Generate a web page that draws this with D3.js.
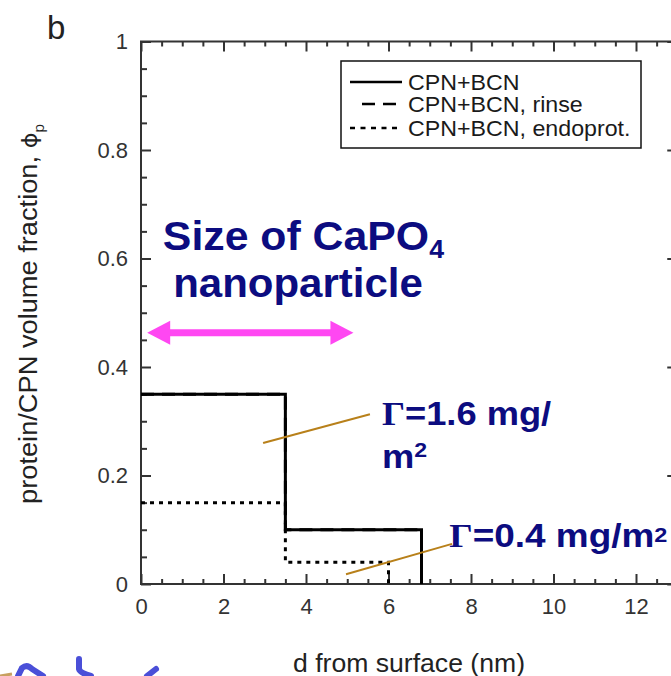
<!DOCTYPE html>
<html>
<head>
<meta charset="utf-8">
<script src="https://cdn.jsdelivr.net/npm/d3@7"></script>
<style>
  body { margin: 0; background: #fff; }
  svg { display: block; }
</style>
</head>
<body>
<svg id="chart" width="671" height="676"></svg>
<script>
// step profiles: layer edges (nm from surface) and volume fraction in each layer
var edgesBCN = [0, 3.5, 6.8];
var phiBCN = [0.35, 0.1];
var edgesRinse = [0, 3.5, 6.8];
var phiRinse = [0.35, 0.1];
var edgesEndo = [0, 3.5, 6.0];
var phiEndo = [0.15, 0.04];

var legendLabels = ["CPN+BCN", "CPN+BCN, rinse", "CPN+BCN, endoprot."];
var xTicks = [0, 2, 4, 6, 8, 10, 12];
var yTicks = [0, 0.2, 0.4, 0.6, 0.8, 1];
var xDomain = [0, 13];
var yDomain = [0, 1];

// annotation anchors, in data units
var arrowSpan = [0.15, 5.15];
var arrowPhi = 0.463;
var leader1 = [[2.96, 0.26], [5.55, 0.313]];
var leader2 = [[4.97, 0.018], [7.54, 0.074]];

var navy = "#0c0c80";
var axisColor = "#333";
var font = "'Liberation Sans', Arial, sans-serif";

var svg = d3.select("#chart");
var x = d3.scaleLinear().domain(xDomain).range([141, 141 + 41.25 * 13]);
var y = d3.scaleLinear().domain(yDomain).range([584, 41.5]);

// minor tick values
var xMinor = d3.range(0, 13.01, 0.5).filter(function(v) { return v % 2 != 0; });
var yMinor = d3.range(0, 1.001, 0.05).filter(function(v) { return Math.abs(v * 5 - Math.round(v * 5)) > 1e-6; });

function styleAxis(g) {
  g.select(".domain").remove();
  g.selectAll(".tick line").attr("stroke", axisColor).attr("stroke-width", 2);
  g.selectAll("text").attr("fill", "#333").style("font-family", font).style("font-size", "22px");
}

// bottom
svg.append("g").attr("transform", "translate(0," + y(0) + ")")
  .call(d3.axisBottom(x).tickValues(xTicks).tickSize(-10).tickPadding(14).tickFormat(d3.format("d")))
  .call(styleAxis);
svg.append("g").attr("transform", "translate(0," + y(0) + ")")
  .call(d3.axisBottom(x).tickValues(xMinor).tickSize(-5).tickFormat(""))
  .call(styleAxis);
// top
svg.append("g").attr("transform", "translate(0," + y(1) + ")")
  .call(d3.axisTop(x).tickValues(xTicks).tickSize(-10).tickFormat(""))
  .call(styleAxis);
svg.append("g").attr("transform", "translate(0," + y(1) + ")")
  .call(d3.axisTop(x).tickValues(xMinor).tickSize(-5).tickFormat(""))
  .call(styleAxis);
// left
svg.append("g").attr("transform", "translate(" + x(0) + ",0)")
  .call(d3.axisLeft(y).tickValues(yTicks).tickSize(-10).tickPadding(13).tickFormat(function(d) { return d; }))
  .call(styleAxis);
svg.append("g").attr("transform", "translate(" + x(0) + ",0)")
  .call(d3.axisLeft(y).tickValues(yMinor).tickSize(-6).tickFormat(""))
  .call(styleAxis);
// right
svg.append("g").attr("transform", "translate(" + x(13) + ",0)")
  .call(d3.axisRight(y).tickValues(yTicks).tickSize(-10).tickFormat(""))
  .call(styleAxis);
svg.append("g").attr("transform", "translate(" + x(13) + ",0)")
  .call(d3.axisRight(y).tickValues(yMinor).tickSize(-6).tickFormat(""))
  .call(styleAxis);

// frame
svg.append("rect")
  .attr("x", x(0)).attr("y", y(1))
  .attr("width", x(13) - x(0)).attr("height", y(0) - y(1))
  .attr("fill", "none").attr("stroke", axisColor).attr("stroke-width", 2);

// step lines
function stepPoints(edges, phi) {
  var pts = phi.map(function(p, i) { return [edges[i], p]; });
  pts.push([edges[edges.length - 1], 0]);
  return pts;
}
var line = d3.line()
  .x(function(d) { return x(d[0]); })
  .y(function(d) { return y(d[1]); })
  .curve(d3.curveStepAfter);

svg.append("path").datum(stepPoints(edgesEndo, phiEndo))
  .attr("d", line).attr("fill", "none").attr("stroke", "#000")
  .attr("stroke-width", 3).attr("stroke-dasharray", "4,5");
svg.append("path").datum(stepPoints(edgesRinse, phiRinse))
  .attr("d", line).attr("fill", "none").attr("stroke", "#000")
  .attr("stroke-width", 3).attr("stroke-dasharray", "13,8");
svg.append("path").datum(stepPoints(edgesBCN, phiBCN))
  .attr("d", line).attr("fill", "none").attr("stroke", "#000")
  .attr("stroke-width", 3);

// legend
var leg = svg.append("g");
leg.append("rect").attr("x", 341).attr("y", 61).attr("width", 300).attr("height", 87)
  .attr("fill", "#fff").attr("stroke", "#111").attr("stroke-width", 1.5);
var legRows = [82, 104, 128];
var legDash = [null, "13,8", "5,5.5"];
var legX0 = [350, 362, 350];
legendLabels.forEach(function(lbl, i) {
  leg.append("line").attr("x1", legX0[i]).attr("x2", 402)
    .attr("y1", legRows[i]).attr("y2", legRows[i])
    .attr("stroke", "#000").attr("stroke-width", 2.5)
    .attr("stroke-dasharray", legDash[i]);
  leg.append("g").attr("transform", "translate(408," + legRows[i] + ") scale(1.08,1)")
    .append("text").attr("dy", "0.36em")
    .style("font-family", font).style("font-size", "21.5px").attr("fill", "#1a1a1a")
    .text(lbl);
});

// axis titles
svg.append("text").attr("x", 409).attr("y", 672).attr("text-anchor", "middle")
  .style("font-family", font).style("font-size", "25px").attr("fill", "#222")
  .attr("textLength", 232).attr("lengthAdjust", "spacingAndGlyphs")
  .text("d from surface (nm)");

var yt = svg.append("g").attr("transform", "translate(37,314) rotate(-90) scale(1.09,1)")
  .append("text").attr("text-anchor", "middle")
  .style("font-family", font).style("font-size", "25px").attr("fill", "#222");
yt.append("tspan").text("protein/CPN volume fraction, ");
yt.append("tspan").style("font-family", "'DejaVu Sans', sans-serif").style("font-size", "22px").text("ϕ");
yt.append("tspan").attr("dy", 7).style("font-size", "14px").text("p");

svg.append("text").attr("x", 47).attr("y", 39)
  .style("font-family", font).style("font-size", "33px").attr("fill", "#222").text("b");

// nanoparticle size annotation
var t1 = svg.append("g").attr("transform", "translate(" + x(0.53) + "," + y(0.616) + ") scale(1.07,1)")
  .append("text").style("font-family", font).style("font-weight", "bold")
  .style("font-size", "40px").attr("fill", navy);
t1.append("tspan").text("Size of CaPO");
t1.append("tspan").attr("dy", 8).style("font-size", "25px").text("4");
svg.append("g").attr("transform", "translate(" + x(0.78) + "," + y(0.529) + ") scale(1.05,1)")
  .append("text").style("font-family", font).style("font-weight", "bold")
  .style("font-size", "40px").attr("fill", navy).text("nanoparticle");

var pink = "#ff47f2";
var ay = y(arrowPhi), ax0 = x(arrowSpan[0]), ax1 = x(arrowSpan[1]);
svg.append("line").attr("x1", ax0 + 15).attr("x2", ax1 - 15).attr("y1", ay).attr("y2", ay)
  .attr("stroke", pink).attr("stroke-width", 7);
svg.append("path").attr("fill", pink)
  .attr("d", "M" + ax0 + "," + ay + "L" + (ax0 + 23) + "," + (ay - 12) + "L" + (ax0 + 23) + "," + (ay + 12) + "Z");
svg.append("path").attr("fill", pink)
  .attr("d", "M" + ax1 + "," + ay + "L" + (ax1 - 23) + "," + (ay - 12) + "L" + (ax1 - 23) + "," + (ay + 12) + "Z");

// adsorbed amount labels with leader lines
var brown = "#b8801a";
[leader1, leader2].forEach(function(l) {
  svg.append("line").attr("x1", x(l[0][0])).attr("y1", y(l[0][1]))
    .attr("x2", x(l[1][0])).attr("y2", y(l[1][1]))
    .attr("stroke", brown).attr("stroke-width", 2);
});

function gammaLabel(px, py, parts, sx) {
  var t = svg.append("g").attr("transform", "translate(" + px + "," + py + ") scale(" + sx + ",1)")
    .append("text").style("font-family", font).style("font-weight", "bold")
    .style("font-size", "33px").attr("fill", navy);
  parts.forEach(function(p) {
    var s = t.append("tspan").text(p.text);
    if (p.serif) s.style("font-family", "'Liberation Serif', 'Times New Roman', serif");
    if (p.size) s.style("font-size", p.size + "px");
    if (p.dy) s.attr("dy", p.dy);
  });
}
gammaLabel(x(5.84), y(0.293), [{text: "Γ", serif: true}, {text: "=1.6 mg/"}], 1.1);
gammaLabel(x(5.84), y(0.214), [{text: "m"}, {text: "2", size: 21, dy: -11}], 1.1);
gammaLabel(x(7.47), y(0.068), [{text: "Γ", serif: true}, {text: "=0.4 mg/m"}, {text: "2", size: 21, dy: -5}], 1.12);

// cropped handwriting fragments at bottom-left edge
var blue = "#4a4fd8";
var frag = ["M18,676 L22,668 Q27,664 32,669 L43,676", "M79,659 L79,669 Q80,673 91,676", "M147,676 L156,669"];
frag.forEach(function(d) {
  svg.append("path").attr("d", d).attr("fill", "none").attr("stroke", blue)
    .attr("stroke-width", 6).attr("stroke-linecap", "round");
});
svg.append("line").attr("x1", 0).attr("y1", 676).attr("x2", 12).attr("y2", 674)
  .attr("stroke", "#c8a060").attr("stroke-width", 3);
</script>
</body>
</html>
